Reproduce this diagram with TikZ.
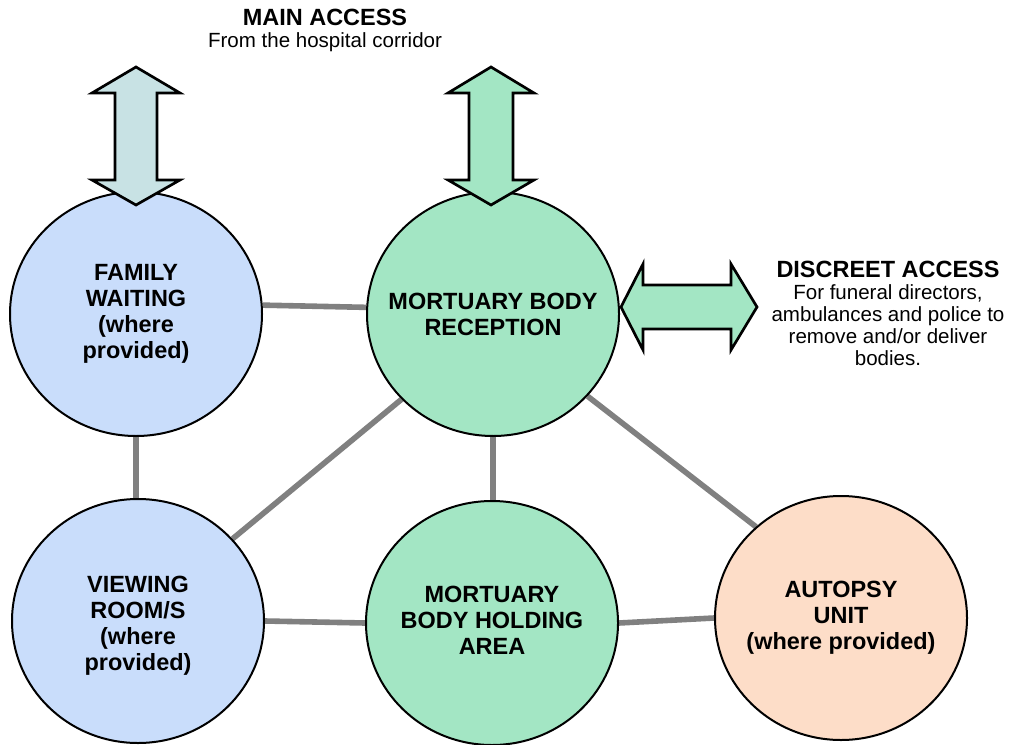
\documentclass[tikz,border=0pt]{standalone}
\usepackage{fontspec}
\setmainfont{Liberation Sans}
\usetikzlibrary{shapes.geometric}
\pgfdeclarelayer{bg}
\pgfsetlayers{bg,main}
\definecolor{blueA}{HTML}{C9DDFB}
\definecolor{greenA}{HTML}{A3E6C4}
\definecolor{orangeA}{HTML}{FDDDC8}
\definecolor{arrowblue}{HTML}{C8E2E4}
\definecolor{linkgray}{HTML}{808080}
\tikzset{
  room/.style={ellipse, draw=black, line width=1.5pt, minimum width=189pt, minimum height=183pt,
    inner sep=0pt},
  roomtext/.style={align=center, inner sep=0pt, font=\fontsize{17.6}{19.5}\selectfont\bfseries},
  link/.style={draw=linkgray, line width=4.2pt},
  bigarrow/.style={draw=black, line width=2pt, line join=miter},
  title/.style={align=center, inner sep=0pt, font=\fontsize{15.4}{16.5}\selectfont},
}
\newcommand{\ttl}[1]{{\fontsize{17.6}{19.5}\selectfont\bfseries #1}}
\begin{document}
\begin{tikzpicture}[x=0.75pt,y=-0.75pt]
\useasboundingbox (0,0) rectangle (1009,745);
% rooms
\node[room, fill=blueA] (fam) at (136,314) {};
\node[room, fill=greenA] (rec) at (493,314) {};
\node[room, fill=blueA] (view) at (138,621) {};
\node[room, fill=greenA] (hold) at (492,623) {};
\node[room, fill=orangeA] (aut) at (841,618) {};
\node[roomtext] (famt) at (fam.center) {FAMILY\\WAITING\\(where\\provided)};
\node[roomtext] (rect) at (rec.center) {MORTUARY BODY\\RECEPTION};
\node[roomtext] (viewt) at ([yshift=-3.5pt]view.center) {VIEWING\\ROOM/S\\(where\\provided)};
\node[roomtext] (holdt) at ([yshift=2pt]hold.center) {MORTUARY\\BODY HOLDING\\AREA};
\node[roomtext] (autt) at (aut.center) {AUTOPSY\\UNIT\\(where provided)};
% links
\begin{pgfonlayer}{bg}
\draw[link] (fam.4) -- (rec.177);
\draw[link] (fam.south) -- (fam.south |- view.north);
\draw[link] (rec.south) -- (rec.south |- hold.north);
\draw[link] (rec.223) -- (view.41);
\draw[link] (rec.-41) -- (aut.133);
\draw[link] (view.east) -- (hold.west);
\draw[link] (hold.east) -- (aut.west);
\end{pgfonlayer}
% access arrows
\draw[bigarrow, fill=arrowblue] (136,67) -- (180,93) -- (157,93) -- (157,180) -- (180,180) -- (136,205)
  -- (92,180) -- (115,180) -- (115,93) -- (92,93) -- cycle;
\draw[bigarrow, fill=greenA] (491,67) -- (534,93) -- (513,93) -- (513,180) -- (534,180) -- (491,205)
  -- (448,180) -- (469,180) -- (469,93) -- (448,93) -- cycle;
\draw[bigarrow, fill=greenA] (621,307) -- (643,264) -- (643,285) -- (731,285) -- (731,264) -- (757,307)
  -- (731,350) -- (731,329) -- (643,329) -- (643,350) -- cycle;
% labels
\node[title] (main) at (325,30) {\ttl{MAIN ACCESS}\\From the hospital corridor};
\node[title] (disc) at (888,313) {\ttl{DISCREET ACCESS}\\For funeral directors,\\ambulances and police to\\remove and/or deliver\\bodies.};
\end{tikzpicture}
\end{document}
